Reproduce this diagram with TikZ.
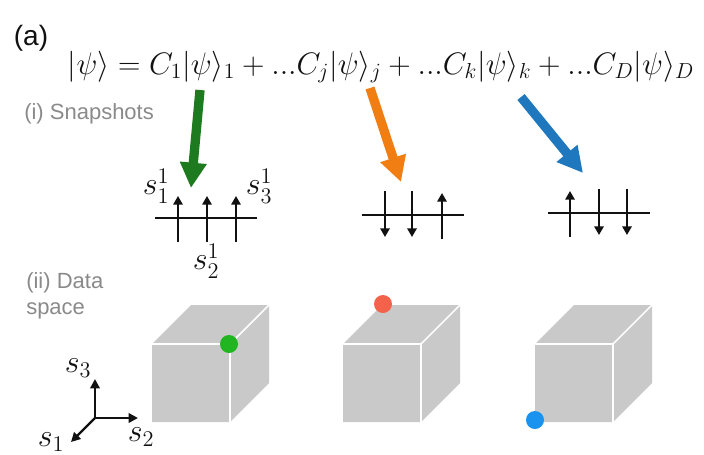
\RequirePackage{fix-cm}
\documentclass[tikz,border=0pt]{standalone}
\usepackage{amsmath}
\usepackage{fontspec}
\newfontfamily\labelfont{Liberation Sans}
\usetikzlibrary{arrows.meta}
\definecolor{ink}{HTML}{111111}
\definecolor{muted}{HTML}{8A8A8A}
\definecolor{cubefill}{HTML}{C9C9C9}
\definecolor{gline}{HTML}{1E7A1E}
\definecolor{oline}{HTML}{F07E12}
\definecolor{bline}{HTML}{1F78BE}
\definecolor{gdot}{HTML}{22B522}
\definecolor{rdot}{HTML}{F4624C}
\definecolor{bdot}{HTML}{1A93EE}
\newcommand{\eqsize}{\fontsize{23.3}{27}\selectfont}
\newcommand{\lblsize}{\fontsize{24}{28}\selectfont}
\tikzset{
 every node/.append style={text=ink,inner sep=0pt},
 tag/.style={font=\labelfont\fontsize{21}{24}\selectfont},
 section/.style={font=\labelfont\fontsize{16.5}{20}\selectfont,text=muted,align=left,anchor=north west},
 mathlbl/.style={font=\lblsize},
 pick/.style={-{Triangle[length=19pt,width=19pt]},line width=7pt},
 spin/.style={-{Triangle[length=6.5pt,width=7pt]},draw=ink,line width=1.6pt},
 chain/.style={draw=ink,line width=1.6pt},
 frame/.style={-{Triangle[length=7pt,width=7pt]},draw=ink,line width=1.8pt},
 face/.style={fill=cubefill,draw=none},
 rim/.style={draw=white,line width=1.2pt},
 site/.style={circle,minimum size=13.5pt},
}
% x, chain y, +1 up / -1 down, name
\newcommand{\spinarrow}[4]{
 \coordinate (#4a) at ({#1},{#2+24*(#3)}); \coordinate (#4b) at ({#1},{#2-22*(#3)});
 \draw[spin] (#4a) -- (#4b);
}
% front-left x of the cube
\newcommand{\datacube}[1]{
 \fill[face] (#1,422) -- (#1,344) -- (#1+39,305) -- (#1+117,305) -- (#1+117,383) -- (#1+78,422) -- cycle;
 \draw[rim] (#1,344) -- (#1+78,344) -- (#1+78,422) (#1+78,344) -- (#1+117,305);
}
\begin{document}
\begin{tikzpicture}[x=0.75pt,y=-0.75pt]

\useasboundingbox (0,0) rectangle (704,454);
\node[tag] (tag) at (31,38) {(a)};
\node[font=\eqsize] (eq) at (381,67) {$|\psi\rangle = C_1|\psi\rangle_1 + ...C_j|\psi\rangle_j + ...C_k|\psi\rangle_k + ...C_D|\psi\rangle_D$};
\node[section] (snap) at (24,103) {(i) Snapshots};
\node[section] (data) at (26,272) {(ii) Data\\space};

\coordinate (g0) at (200,90); \coordinate (g1) at (191,188);
\coordinate (o0) at (370,88); \coordinate (o1) at (401,182);
\coordinate (b0) at (521,97); \coordinate (b1) at (583,173);
\draw[pick,draw=gline,fill=gline] (g0) -- (g1);
\draw[pick,draw=oline,fill=oline] (o0) -- (o1);
\draw[pick,draw=bline,fill=bline] (b0) -- (b1);

\coordinate (c1l) at (155,218); \coordinate (c1r) at (257,218); \draw[chain] (c1l) -- (c1r);
\spinarrow{178}{218}{1}{u1} \spinarrow{207}{218}{1}{u2} \spinarrow{236}{218}{1}{u3}
\node[mathlbl] (s11) at (156,186) {$s_1^1$};
\node[mathlbl] (s21) at (206,261) {$s_2^1$};
\node[mathlbl] (s31) at (259,186) {$s_3^1$};
\coordinate (c2l) at (362,215); \coordinate (c2r) at (464,215); \draw[chain] (c2l) -- (c2r);
\spinarrow{385}{215}{-1}{v1} \spinarrow{412}{215}{-1}{v2} \spinarrow{442}{215}{1}{v3}
\coordinate (c3l) at (548,213); \coordinate (c3r) at (650,213); \draw[chain] (c3l) -- (c3r);
\spinarrow{570}{213}{1}{w1} \spinarrow{599}{213}{-1}{w2} \spinarrow{627}{213}{-1}{w3}

\coordinate (o) at (95,418);
\coordinate (e3) at (95,379); \coordinate (e2) at (138,418); \coordinate (e1) at (71,442);
\node[mathlbl] (ax3) at (78,368) {$s_3$};
\node[mathlbl] (ax2) at (141,437) {$s_2$};
\node[mathlbl] (ax1) at (51,442) {$s_1$};
\draw[frame] (o) -- (e3); \draw[frame] (o) -- (e2); \draw[frame] (o) -- (e1);

\datacube{152} \datacube{343} \datacube{535}
\node[site,fill=gdot] (gdot) at (229,344) {};
\node[site,fill=rdot] (rdot) at (383,304) {};
\node[site,fill=bdot] (bdot) at (535,420) {};

\end{tikzpicture}
\end{document}
